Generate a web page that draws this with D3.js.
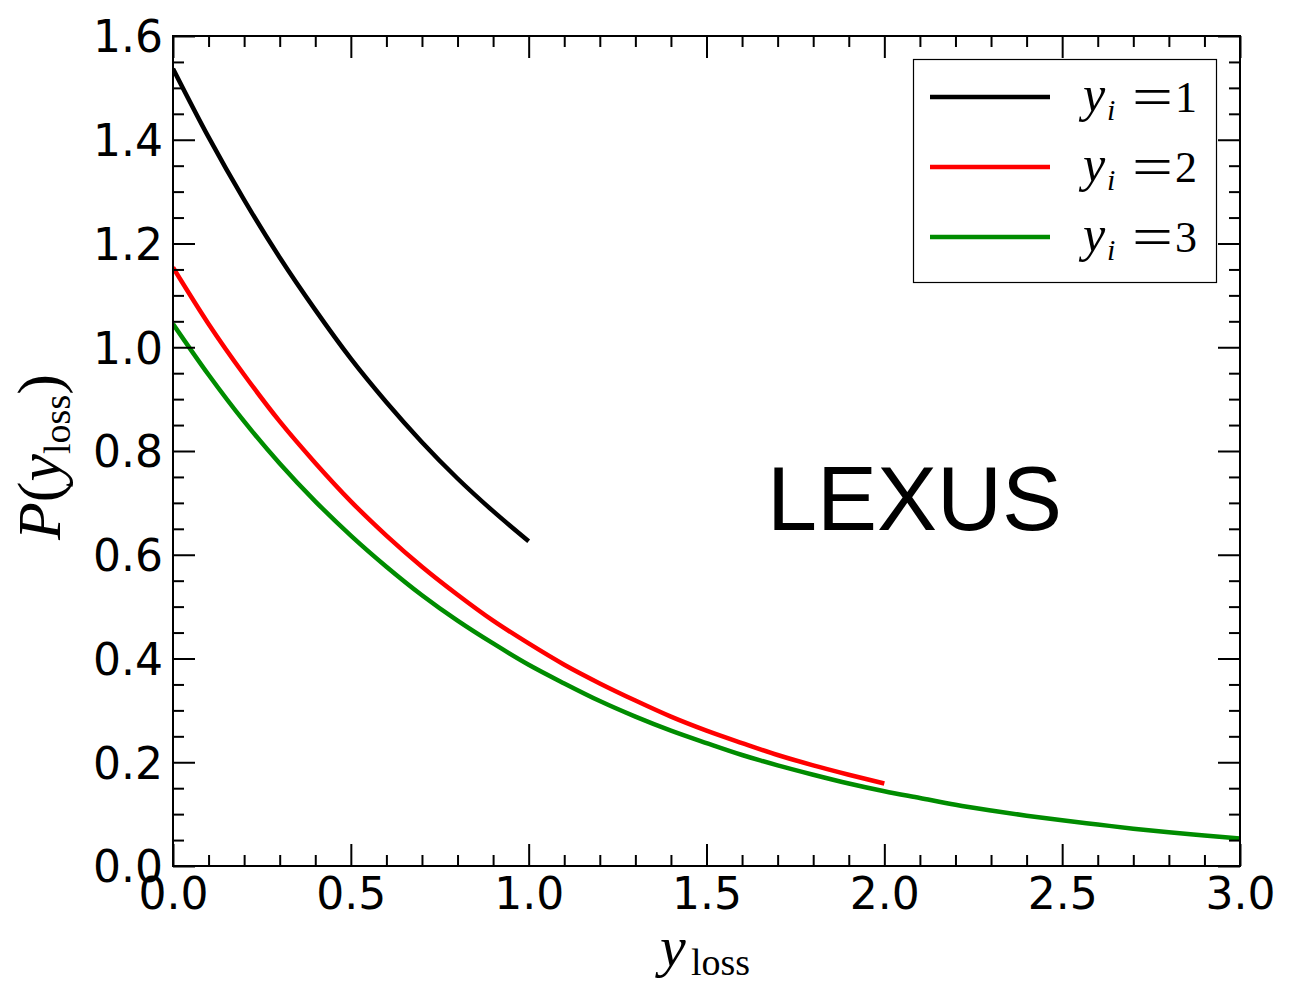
<!DOCTYPE html>
<html>
<head>
<meta charset="utf-8">
<script src="https://cdn.jsdelivr.net/npm/d3@7"></script>
<style>
html,body{margin:0;padding:0;background:#fff;}
svg{display:block;}
</style>
</head>
<body>
<svg id="chart" width="1303" height="984"></svg>
<script>
// ---- data ----
const xBlack = [0.0,0.1,0.2,0.3,0.4,0.5,0.6,0.7,0.8,0.9,1.0];
const yBlack = [1.537,1.405,1.284,1.173,1.072,0.978,0.894,0.817,0.747,0.684,0.626];

const xRed = [0.0,0.1,0.2,0.3,0.4,0.5,0.6,0.7,0.8,0.9,1.0,1.1,1.2,1.3,1.4,1.5,1.6,1.7,1.8,1.9,2.0];
const yRed = [1.154,1.045,0.947,0.857,0.777,0.703,0.637,0.577,0.523,0.473,0.429,0.388,0.352,0.319,0.288,0.261,0.237,0.214,0.194,0.176,0.159];

const xGreen = [0.0,0.1,0.2,0.3,0.4,0.5,0.6,0.7,0.8,0.9,1.0,1.1,1.2,1.3,1.4,1.5,1.6,1.7,1.8,1.9,2.0,2.1,2.2,2.3,2.4,2.5,2.6,2.7,2.8,2.9,3.0];
const yGreen = [1.045,0.947,0.857,0.776,0.703,0.637,0.577,0.522,0.473,0.429,0.388,0.352,0.318,0.288,0.261,0.237,0.214,0.194,0.176,0.159,0.144,0.131,0.118,0.107,0.097,0.088,0.080,0.072,0.065,0.059,0.053];

const seriesNames = ["1","2","3"];
const seriesColors = ["#000000","#ff0000","#008c00"];

const xTicks = [0.0,0.5,1.0,1.5,2.0,2.5,3.0];
const xTickLabels = ["0.0","0.5","1.0","1.5","2.0","2.5","3.0"];
const yTicks = [0.0,0.2,0.4,0.6,0.8,1.0,1.2,1.4,1.6];
const yTickLabels = ["0.0","0.2","0.4","0.6","0.8","1.0","1.2","1.4","1.6"];
const annotation = "LEXUS";

// ---- layout ----
const svg = d3.select("#chart");
const L = 173, R = 1240, T = 36, B = 866;
const x = d3.scaleLinear().domain([0,3]).range([L,R]);
const y = d3.scaleLinear().domain([0,1.6]).range([B,T]);

const sans = "'DejaVu Sans', sans-serif";
const serif = "'Liberation Serif', 'DejaVu Serif', serif";

// curves
const series = [
  {xs:xBlack, ys:yBlack},
  {xs:xRed, ys:yRed},
  {xs:xGreen, ys:yGreen}
];
const line = d3.line().x(d=>x(d[0])).y(d=>y(d[1])).curve(d3.curveMonotoneX);
const clip = svg.append("clipPath").attr("id","clip").append("rect")
  .attr("x",L).attr("y",T).attr("width",R-L).attr("height",B-T);
series.forEach((s,i)=>{
  const pts = s.xs.map((v,j)=>[v,s.ys[j]]);
  svg.append("path").attr("d",line(pts)).attr("fill","none")
    .attr("stroke",seriesColors[i]).attr("stroke-width",4.5)
    .attr("clip-path","url(#clip)");
});

// axes with inward ticks
const minorX = d3.range(0,3.0001,0.1).map(v=>+v.toFixed(2)).filter(v=>!xTicks.some(t=>Math.abs(t-v)<1e-6));
const minorY = d3.range(0,1.6001,0.05).map(v=>+v.toFixed(3)).filter(v=>!yTicks.some(t=>Math.abs(t-v)<1e-6));

function addAxis(axisGen, transform){
  const g = svg.append("g").attr("transform",transform).call(axisGen);
  g.select(".domain").remove();
  g.selectAll("line").attr("stroke","#000").attr("stroke-width",2);
  return g;
}
// bottom major (labels)
const gxb = addAxis(d3.axisBottom(x).tickValues(xTicks).tickSize(-22).tickPadding(14)
  .tickFormat((d,i)=>xTickLabels[i]), `translate(0,${B})`);
gxb.selectAll("text").attr("font-family",sans).attr("font-size",44).attr("fill","#000").attr("dy","0.71em").attr("y",12);
addAxis(d3.axisBottom(x).tickValues(minorX).tickSize(-11).tickFormat(""), `translate(0,${B})`);
// top
addAxis(d3.axisTop(x).tickValues(xTicks).tickSize(-22).tickFormat(""), `translate(0,${T})`);
addAxis(d3.axisTop(x).tickValues(minorX).tickSize(-11).tickFormat(""), `translate(0,${T})`);
// left major (labels)
const gyl = addAxis(d3.axisLeft(y).tickValues(yTicks).tickSize(-22).tickPadding(10)
  .tickFormat((d,i)=>yTickLabels[i]), `translate(${L},0)`);
gyl.selectAll("text").attr("font-family",sans).attr("font-size",44).attr("fill","#000").attr("x",-10).attr("dy","0.36em");
addAxis(d3.axisLeft(y).tickValues(minorY).tickSize(-11).tickFormat(""), `translate(${L},0)`);
// right
addAxis(d3.axisRight(y).tickValues(yTicks).tickSize(-22).tickFormat(""), `translate(${R},0)`);
addAxis(d3.axisRight(y).tickValues(minorY).tickSize(-11).tickFormat(""), `translate(${R},0)`);

// frame
svg.append("rect").attr("x",L).attr("y",T).attr("width",R-L).attr("height",B-T)
  .attr("fill","none").attr("stroke","#000").attr("stroke-width",2);

// legend
const lg = svg.append("g");
lg.append("rect").attr("x",913.5).attr("y",59.5).attr("width",303).attr("height",223)
  .attr("fill","#fff").attr("stroke","#000").attr("stroke-width",1.2);
const legY = [97,167,237];
seriesNames.forEach((n,i)=>{
  lg.append("line").attr("x1",930).attr("x2",1050).attr("y1",legY[i]).attr("y2",legY[i])
    .attr("stroke",seriesColors[i]).attr("stroke-width",4.5);
  const t = lg.append("text").attr("font-family",serif).attr("font-size",50).attr("fill","#000");
  t.append("tspan").attr("x",1083).attr("y",legY[i]+14).attr("font-style","italic").text("y");
  t.append("tspan").attr("x",1107).attr("y",legY[i]+23).attr("font-size",30).attr("font-style","italic").text("i");
  lg.append("text").attr("font-family",serif).attr("font-size",56).attr("fill","#000")
    .attr("x",1132).attr("y",legY[i]+19).attr("textLength",41).attr("lengthAdjust","spacingAndGlyphs").text("=");
  lg.append("text").attr("font-family",serif).attr("font-size",44).attr("fill","#000")
    .attr("x",1175).attr("y",legY[i]+15).text(n);
});

// annotation
svg.append("text").attr("x",767).attr("y",530).attr("font-family","'Liberation Sans', Arial, sans-serif")
  .attr("font-size",90).attr("fill","#000").attr("textLength",295).attr("lengthAdjust","spacingAndGlyphs")
  .text(annotation);

// x label
const xl = svg.append("text").attr("font-family",serif).attr("fill","#000");
xl.append("tspan").attr("x",660).attr("y",966).attr("font-size",58).attr("font-style","italic").text("y");
xl.append("tspan").attr("x",691).attr("y",975).attr("font-size",38).text("loss");

// y label (rotated)
const yl = svg.append("text").attr("font-family",serif).attr("fill","#000")
  .attr("transform","translate(60,540) rotate(-90)");
yl.append("tspan").attr("x",0).attr("y",0).attr("font-size",62).attr("font-style","italic").text("P");
yl.append("tspan").attr("font-size",62).text("(");
yl.append("tspan").attr("font-size",62).attr("font-style","italic").text("y");
yl.append("tspan").attr("font-size",38).attr("dy",10).text("loss");
yl.append("tspan").attr("font-size",62).attr("dy",-10).text(")");
</script>
</body>
</html>
